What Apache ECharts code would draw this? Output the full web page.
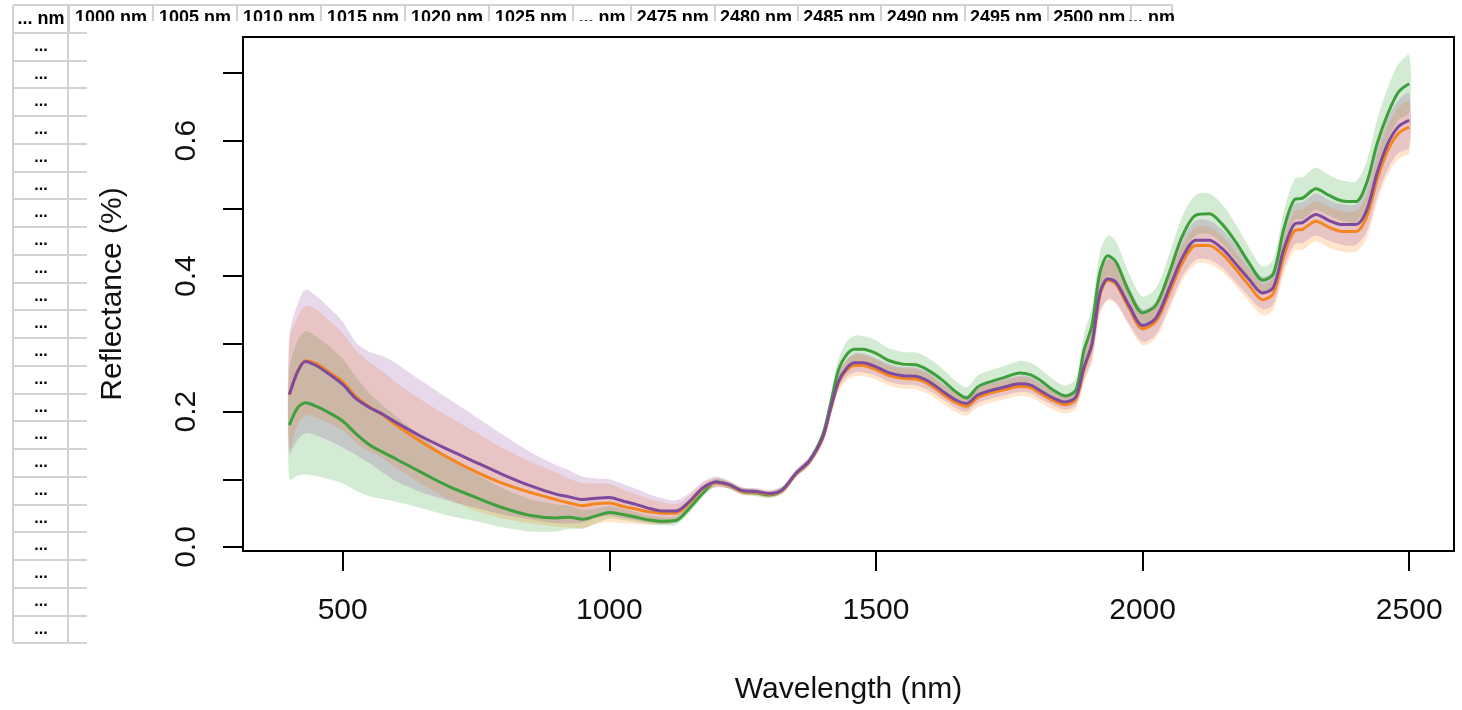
<!DOCTYPE html>
<html>
<head>
<meta charset="utf-8">
<title>Reflectance spectra</title>
<script src="https://cdn.jsdelivr.net/npm/echarts@6.0.0/dist/echarts.min.js"></script>
<style>
	* { margin: 0; padding: 0; }
	html, body { width: 100%; height: 100%; background: #fff; }
	#main { width: 1462px; height: 710px; }
</style>
</head>
<body>
<div id="main"></div>
<script>
	// wavelengths (nm)
	var WL = [400,415,430,450,475,500,525,550,575,600,650,700,750,800,850,900,925,950,975,1000,
		1025,1050,1075,1100,1125,1150,1175,1200,1225,1250,1275,1300,1325,1350,1375,1400,1415,1430,1445,1460,
		1475,1500,1525,1550,1575,1600,1625,1650,1670,1690,1710,1740,1770,1790,1810,1830,1855,1875,1890,1905,
		1920,1935,1950,1975,2000,2025,2050,2075,2100,2125,2150,2175,2200,2225,2245,2265,2285,2300,2325,2350,
		2375,2400,2420,2440,2460,2480,2500];

	// mean reflectance per group
	var PURPLE_MEAN = [.225,.258,.274,.268,.255,.240,.219,.206,.196,.184,.162,.143,.125,.107,.091,.078,.074,.070,.072,.073,
		.068,.063,.057,.053,.053,.067,.087,.096,.092,.083,.082,.079,.085,.109,.127,.162,.205,.245,.264,.272,
		.272,.266,.257,.253,.252,.244,.230,.217,.212,.224,.230,.236,.241,.239,.230,.221,.214,.222,.265,.300,
		.375,.396,.391,.356,.327,.338,.382,.428,.453,.453,.440,.418,.395,.375,.383,.440,.477,.479,.491,.482,
		.476,.476,.497,.553,.596,.621,.630];
	var ORANGE_MEAN = [.225,.259,.275,.271,.258,.244,.222,.207,.195,.180,.154,.131,.111,.094,.081,.070,.065,.061,.064,.065,
		.060,.056,.052,.050,.050,.065,.086,.095,.091,.082,.081,.078,.084,.108,.126,.160,.203,.243,.261,.268,
		.268,.262,.253,.249,.248,.240,.226,.213,.208,.220,.226,.232,.237,.235,.226,.217,.210,.218,.262,.297,
		.372,.394,.388,.352,.322,.333,.375,.420,.445,.445,.432,.410,.386,.365,.374,.430,.467,.469,.481,.472,
		.466,.466,.487,.543,.586,.611,.620];
	var GREEN_MEAN = [.180,.205,.213,.208,.198,.186,.167,.151,.140,.130,.109,.089,.073,.058,.047,.043,.044,.041,.046,.051,
		.048,.044,.040,.038,.039,.057,.079,.096,.091,.082,.080,.077,.084,.108,.127,.165,.212,.262,.284,.292,
		.292,.286,.275,.270,.269,.260,.246,.229,.220,.236,.243,.250,.257,.254,.245,.233,.223,.232,.290,.327,
		.405,.430,.421,.376,.346,.357,.405,.460,.490,.492,.476,.450,.419,.394,.403,.470,.513,.515,.529,.519,
		.511,.510,.537,.596,.640,.672,.684];

	// standard deviation per group (shaded band = mean +/- sd)
	var PURPLE_SD = [.087,.100,.106,.103,.098,.093,.083,.082,.086,.087,.082,.075,.067,.059,.050,.043,.039,.034,.029,.027,
		.025,.023,.021,.019,.016,.012,.009,.008,.006,.005,.005,.005,.005,.005,.006,.007,.009,.011,.013,.014,
		.014,.013,.013,.013,.013,.013,.012,.012,.012,.012,.012,.012,.012,.012,.012,.011,.011,.012,.018,.022,
		.028,.030,.030,.027,.024,.024,.026,.028,.029,.029,.028,.027,.026,.024,.025,.028,.030,.030,.031,.030,
		.030,.030,.032,.035,.038,.039,.040];
	var ORANGE_SD = [.080,.080,.081,.080,.076,.072,.068,.066,.064,.063,.062,.061,.058,.052,.046,.040,.036,.033,.030,.028,
		.025,.022,.019,.016,.013,.010,.008,.006,.005,.005,.005,.005,.005,.005,.006,.007,.010,.013,.015,.016,
		.016,.015,.015,.015,.015,.015,.014,.014,.014,.014,.014,.014,.014,.014,.014,.013,.013,.014,.020,.024,
		.028,.030,.029,.026,.024,.024,.025,.026,.027,.027,.026,.025,.024,.023,.024,.027,.029,.030,.030,.030,
		.030,.030,.032,.034,.036,.038,.038];
	var GREEN_SD = [.080,.100,.106,.103,.098,.092,.084,.076,.069,.063,.052,.043,.035,.029,.024,.020,.017,.014,.011,.009,
		.008,.007,.006,.006,.006,.006,.006,.005,.005,.005,.005,.005,.005,.005,.006,.008,.012,.016,.019,.020,
		.020,.019,.018,.018,.018,.018,.017,.016,.016,.017,.017,.017,.018,.018,.017,.016,.015,.017,.024,.027,
		.030,.030,.030,.027,.024,.025,.027,.029,.030,.030,.029,.026,.023,.020,.021,.026,.030,.031,.031,.030,
		.030,.030,.032,.035,.038,.041,.042];

	// axis ticks
	var X_TICKS = [500, 1000, 1500, 2000, 2500];
	var Y_TICKS = [0, 0.1, 0.2, 0.3, 0.4, 0.5, 0.6, 0.7];
	var Y_LABELS = [0, 0.2, 0.4, 0.6];

	// spreadsheet fragment behind the plot
	var ROW_LABELS = ['... nm', '...', '...', '...', '...', '...', '...', '...', '...', '...', '...', '...',
		'...', '...', '...', '...', '...', '...', '...', '...', '...', '...', '...'];
	var HEAD_A = ['1000 nm', '1005 nm', '1010 nm', '1015 nm', '1020 nm', '1025 nm'];
	var HEAD_B = ['... nm'];
	var HEAD_C = ['2475 nm', '2480 nm', '2485 nm', '2490 nm', '2495 nm', '2500 nm'];
	var HEAD_D = ['... nm'];

	var FONT = 'Liberation Sans, Arial, sans-serif';
	var CELL_LINE = '#d2d2d2';
	var SMOOTH = 0.3;

	var myChart = echarts.init(document.getElementById('main'));

	var grids = [], xAxes = [], yAxes = [], series = [];

	// 0: the plot
	grids.push({left: 243, top: 37, width: 1211, height: 516, show: true,
		borderColor: '#000', borderWidth: 2, backgroundColor: 'rgba(0,0,0,0)', zlevel: 2});
	xAxes.push({
		gridIndex: 0, type: 'value', min: 313, max: 2584, zlevel: 2,
		axisLine: {show: true, onZero: false, lineStyle: {color: '#000', width: 2}},
		axisTick: {show: true, customValues: X_TICKS, length: 20, lineStyle: {color: '#000', width: 2}},
		axisLabel: {customValues: X_TICKS, margin: 45, fontSize: 30, color: '#111', fontFamily: FONT,
			formatter: function (v) { return String(v); }},
		splitLine: {show: false},
		name: 'Wavelength (nm)', nameLocation: 'middle', nameGap: 124,
		nameTextStyle: {fontSize: 30, color: '#111', fontFamily: FONT}
	});
	yAxes.push({
		gridIndex: 0, type: 'value', min: -0.0059, max: 0.753, zlevel: 2,
		axisLine: {show: true, onZero: false, lineStyle: {color: '#000', width: 2}},
		axisTick: {show: true, customValues: Y_TICKS, length: 20, lineStyle: {color: '#000', width: 2}},
		axisLabel: {customValues: Y_LABELS, rotate: 90, margin: 41, fontSize: 30, color: '#111', fontFamily: FONT,
			formatter: function (v) { return v.toFixed(1); }},
		splitLine: {show: false},
		name: 'Reflectance (%)', nameLocation: 'middle', nameGap: 115,
		nameTextStyle: {fontSize: 30, color: '#111', fontFamily: FONT}
	});

	// 1: left column of the sheet
	grids.push({left: 13, top: 5, width: 74, height: 638, show: false, zlevel: 2});
	xAxes.push({
		gridIndex: 1, type: 'value', min: 0, max: 74, interval: 55, zlevel: 2,
		axisLine: {show: false}, axisTick: {show: false}, axisLabel: {show: false},
		splitLine: {show: true, showMaxLine: false, lineStyle: {color: CELL_LINE, width: 2}}
	});
	yAxes.push({
		gridIndex: 1, type: 'category', inverse: true, zlevel: 2,
		data: ROW_LABELS.map(function (t, i) {
			return i == 0 ? {value: t, textStyle: {fontSize: 18, fontWeight: 'bold', align: 'center'}} : t;
		}),
		axisLine: {show: false}, axisTick: {show: false},
		splitLine: {show: true, interval: 0, lineStyle: {color: CELL_LINE, width: 2}},
		axisLabel: {inside: true, interval: 0, margin: 28, align: 'center', verticalAlign: 'middle',
			fontSize: 16, fontWeight: 'bold', color: '#000', fontFamily: FONT}
	});

	// 2..5: header row pieces
	function headerCells(left, width, labels) {
		var idx = grids.length;
		grids.push({left: left, top: 5, width: width, height: 27, show: true,
			borderColor: CELL_LINE, borderWidth: 2, zlevel: 0});
		xAxes.push({
			gridIndex: idx, type: 'category', data: labels, position: 'top', zlevel: 0,
			axisLine: {show: false}, axisTick: {show: false},
			splitLine: {show: true, interval: 0, lineStyle: {color: CELL_LINE, width: 2}},
			axisLabel: {inside: true, interval: 0, margin: 13, verticalAlign: 'middle',
				fontSize: 18, fontWeight: 'bold', color: '#000', fontFamily: FONT}
		});
		yAxes.push({gridIndex: idx, type: 'value', show: false});
	}
	headerCells(69, 504, HEAD_A);
	headerCells(573, 58, HEAD_B);
	headerCells(631, 500, HEAD_C);
	headerCells(1131, 41, HEAD_D);

	function pairs(vals) {
		return WL.map(function (w, i) { return [w, vals[i]]; });
	}
	// shaded band: one polygon per group, mean - sd up to mean + sd
	function addBand(mean, sd, color) {
		var rows = WL.map(function (w, i) {
			return [w, +(mean[i] - sd[i]).toFixed(4), +(mean[i] + sd[i]).toFixed(4)];
		});
		series.push({
			type: 'custom', xAxisIndex: 0, yAxisIndex: 0, zlevel: 2, silent: true, clip: true,
			data: rows,
			encode: {x: 0, y: [1, 2]},
			renderItem: function (params, api) {
				if (params.dataIndex !== 0) return null;
				var upper = rows.map(function (r) { return api.coord([r[0], r[2]]); });
				var lower = rows.map(function (r) { return api.coord([r[0], r[1]]); }).reverse();
				return {
					type: 'polygon',
					shape: {points: upper.concat(lower), smooth: SMOOTH},
					style: {fill: color}
				};
			}
		});
	}
	function addLine(mean, color) {
		series.push({
			type: 'line', xAxisIndex: 0, yAxisIndex: 0, zlevel: 2, z: 3, silent: true,
			showSymbol: false, smooth: SMOOTH, lineStyle: {color: color, width: 3},
			data: pairs(mean)
		});
	}

	addBand(GREEN_MEAN, GREEN_SD, 'rgba(77,175,74,0.25)');
	addBand(ORANGE_MEAN, ORANGE_SD, 'rgba(255,127,0,0.2)');
	addBand(PURPLE_MEAN, PURPLE_SD, 'rgba(152,78,163,0.22)');
	addLine(GREEN_MEAN, '#3f9f3c');
	addLine(ORANGE_MEAN, '#f5861f');
	addLine(PURPLE_MEAN, '#7e4a9e');

	var option = {
		backgroundColor: '#fff',
		animation: false,
		grid: grids,
		xAxis: xAxes,
		yAxis: yAxes,
		// the pasted plot image covers the lower part of the sheet header
		graphic: [{
			type: 'rect', zlevel: 1, silent: true,
			shape: {x: 70, y: 21, width: 1392, height: 689},
			style: {fill: '#fff'}
		}],
		series: series
	};
	myChart.setOption(option);
</script>
</body>
</html>
